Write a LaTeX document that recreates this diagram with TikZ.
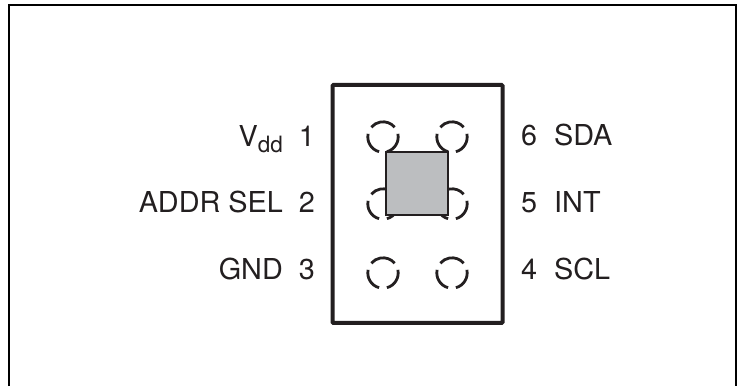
\documentclass[tikz,border=0pt]{standalone}
\usepackage{fontspec}
\setmainfont{TeX Gyre Heros}
\usetikzlibrary{positioning}
\definecolor{inkclr}{HTML}{231F20}
\definecolor{dieclr}{HTML}{BCBEC0}
\tikzset{
  pinlabel/.style={inner sep=0pt,text=inkclr,font=\fontsize{28.8}{31}\selectfont},
  padline/.style={draw=inkclr,line width=2.8pt},
}

\begin{document}
\begin{tikzpicture}[x=1pt,y=1pt]
\useasboundingbox (0,0) rectangle (737,386);
% outer frame, open at the bottom
\draw[line width=2.6pt] (9,0) -- (9,381) -- (736,381) -- (736,0);
% package
\node[draw=inkclr,line width=4pt,rounded corners=1pt,minimum width=170pt,minimum height=238pt,inner sep=0pt] (package) at (417.5,182) {};
% pads
\foreach \padname/\padx/\pady in {pada/383/249,padb/452/249,padc/383/182,padd/452/182,pade/383/113,padf/452/113}{
  \coordinate (\padname) at (\padx,\pady);
  \draw[padline] (\padname) ++(40:15.2) arc[start angle=40,end angle=140,radius=15.2];
  \draw[padline] (\padname) ++(168:15.2) arc[start angle=168,end angle=255,radius=15.2];
  \draw[padline] (\padname) ++(285:15.2) arc[start angle=285,end angle=372,radius=15.2];
}
% die
\node[draw=inkclr,fill=dieclr,line width=2.8pt,minimum width=62pt,minimum height=63pt,inner sep=0pt] (die) at (417,202.5) {};
% left side
\node[pinlabel,anchor=base east] (pinone) at (315,239.5) {1};
\node[pinlabel,anchor=base east] (pintwo) at (315,173) {2};
\node[pinlabel,anchor=base east] (pinthree) at (315,106) {3};
\node[pinlabel,anchor=base east] (vdd) at (283,239.5) {V\raisebox{-6pt}{\fontsize{22.5}{24}\selectfont dd}};
\node[pinlabel,anchor=base east] (addr) at (283,173) {ADDR SEL};
\node[pinlabel,anchor=base east] (gnd) at (283,106) {GND};
% right side
\node[pinlabel,anchor=base west] (pinsix) at (521,240.5) {6};
\node[pinlabel,anchor=base west] (pinfive) at (521,173) {5};
\node[pinlabel,anchor=base west] (pinfour) at (521,106) {4};
\node[pinlabel,anchor=base west] (sda) at (554,240.5) {SDA};
\node[pinlabel,anchor=base west] (int) at (554,173) {INT};
\node[pinlabel,anchor=base west] (scl) at (554,106) {SCL};
\end{tikzpicture}
\end{document}
